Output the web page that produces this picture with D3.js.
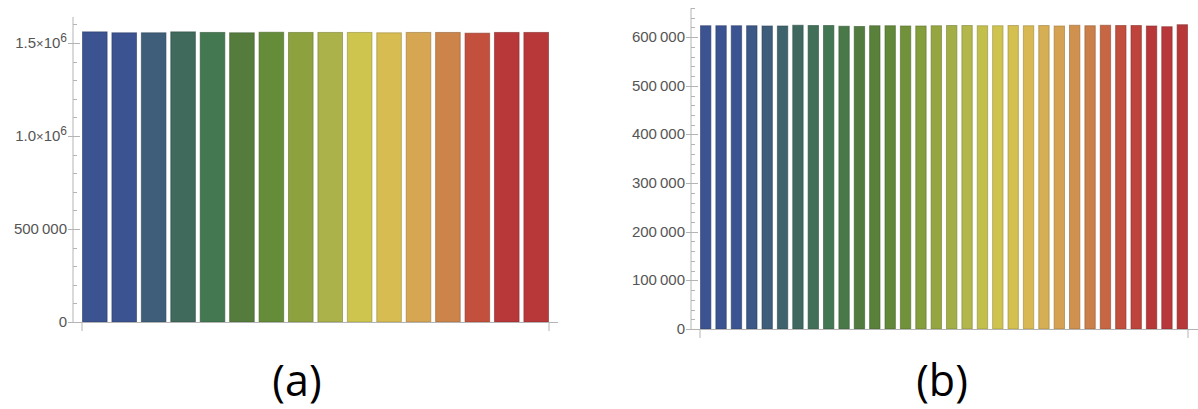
<!DOCTYPE html>
<html><head><meta charset="utf-8">
<script src="https://cdn.jsdelivr.net/npm/d3@7"></script>
<style>body{margin:0;background:#fff}svg{display:block}</style>
</head><body><svg id="c" width="1198" height="409"></svg>
<script>
const valuesA = [1560000,1555000,1555000,1560000,1557000,1555000,1558000,1557000,1557000,1557000,1555000,1557000,1557000,1553000,1557000,1557000];
const valuesB = [623500,623500,623500,623500,623000,623000,624500,624000,624000,622500,622000,623500,623500,623000,623000,623500,624000,624000,623500,623500,624000,623500,624000,623000,624500,623500,624500,624000,624000,623000,621500,625600];
const majorTicksA = [0,500000,1000000,1500000];
const majorTicksB = [0,100000,200000,300000,400000,500000,600000];
const panelLabels = ["(a)","(b)"];
const colorStops = ["#3b5391","#3b5391","#3e5e7a","#3f6a5c","#447850","#557c3d","#658c38","#8da23e","#abb24a","#cdc54e","#d7bc52","#d6a653","#cc844b","#c3503d","#b8383a","#b8383a"];

const svg = d3.select("#c");
const palette = d3.piecewise(d3.interpolateRgb, colorStops);
const axisCol = "#b4b4b4", textCol = "#555555";

function fmt(v){
  if (v === 0) return "0";
  return d3.format(",")(v).replace(/,/g, "\u2009");
}

function panel(cfg){
  const g = svg.append("g");
  const y = d3.scaleLinear().domain([0, cfg.ymax]).range([cfg.y0, cfg.ytop]);
  const x = d3.scaleBand().domain(d3.range(cfg.values.length)).range([cfg.bx0, cfg.bx1]).paddingInner(cfg.pad).paddingOuter(0);
  const n = cfg.values.length;
  g.selectAll("rect").data(cfg.values).join("rect")
    .attr("x", (d,i)=>x(i)+0.5).attr("width", x.bandwidth()-1)
    .attr("y", d=>y(d)).attr("height", d=>y(0)-y(d))
    .attr("fill", (d,i)=>palette(i/(n-1)))
    .attr("stroke", (d,i)=>d3.color(palette(i/(n-1))).darker(0.9))
    .attr("stroke-opacity",0.6).attr("stroke-width",1);
  g.append("line").attr("x1",cfg.ax).attr("x2",cfg.ax).attr("y1",cfg.ytop).attr("y2",cfg.y0+0.5)
    .attr("stroke",axisCol).attr("stroke-width",1);
  g.append("line").attr("x1",cfg.ax-5).attr("x2",cfg.axEnd).attr("y1",cfg.y0+0.5).attr("y2",cfg.y0+0.5)
    .attr("stroke",axisCol).attr("stroke-width",1);
  [cfg.bx0, cfg.bx1].forEach(xx=>{
    g.append("line").attr("x1",xx).attr("x2",xx).attr("y1",cfg.y0).attr("y2",cfg.y0+9)
      .attr("stroke",axisCol).attr("stroke-width",1);
  });
  const minors = d3.range(0, cfg.ymax+1, cfg.minorStep).filter(v=>!cfg.majors.includes(v));
  g.selectAll("line.mn").data(minors).join("line").attr("class","mn")
    .attr("x1",cfg.ax).attr("x2",cfg.ax+4).attr("y1",d=>Math.round(y(d))+0.5).attr("y2",d=>Math.round(y(d))+0.5)
    .attr("stroke",axisCol).attr("stroke-width",1);
  g.selectAll("line.mj").data(cfg.majors).join("line").attr("class","mj")
    .attr("x1",cfg.ax-5).attr("x2",cfg.ax+7).attr("y1",d=>Math.round(y(d))+0.5).attr("y2",d=>Math.round(y(d))+0.5)
    .attr("stroke",axisCol).attr("stroke-width",1);
  cfg.majors.forEach(v=>{
    const t = g.append("text").attr("x",cfg.ax-6).attr("y",y(v)+5).attr("text-anchor","end")
      .attr("font-family","Liberation Sans, Arial, sans-serif").attr("font-size",15).attr("fill",textCol);
    if (cfg.sci && v >= 1000000){
      const m = v/1000000;
      t.append("tspan").text(m.toFixed(1));
      t.append("tspan").attr("font-size",13).text("\u00d7");
      t.append("tspan").text("10");
      t.append("tspan").attr("font-size",12).attr("dy",-6).text("6");
    } else {
      t.text(fmt(v));
    }
  });
  svg.append("text").attr("x",cfg.labelX).attr("y",396).attr("text-anchor","middle")
    .attr("font-family","Open Sans, Liberation Sans, sans-serif").attr("font-size",43).attr("fill","#000")
    .text(cfg.label);
}

panel({values:valuesA, ymax:1640000, y0:322, ytop:17, bx0:82, bx1:549, pad:0.13, ax:73, axEnd:558,
       majors:majorTicksA, minorStep:100000, sci:true, label:panelLabels[0], labelX:297});
panel({values:valuesB, ymax:660000, y0:329, ytop:8, bx0:700, bx1:1188, pad:0.26, ax:691, axEnd:1198,
       majors:majorTicksB, minorStep:20000, sci:false, label:panelLabels[1], labelX:942});
</script></body></html>
